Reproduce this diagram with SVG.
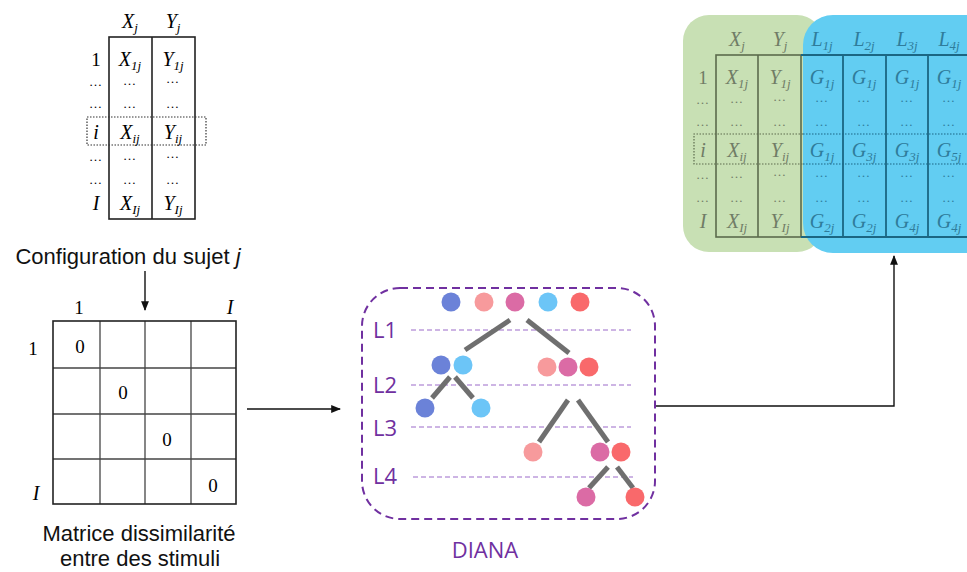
<svg xmlns="http://www.w3.org/2000/svg" width="967" height="572" viewBox="0 0 967 572">
<style>
.m{font-family:"Liberation Serif",serif;font-style:italic;font-size:20px;text-anchor:middle}
.r{font-family:"Liberation Serif",serif;font-size:19px;text-anchor:middle}
.e{font-family:"Liberation Serif",serif;font-size:13px;text-anchor:middle;letter-spacing:1px}
.s{font-size:13px}
.cal{font-family:"Liberation Sans",sans-serif;font-size:22px;text-anchor:middle;fill:#111}
.lv{font-family:"Open Sans","Liberation Sans",sans-serif;font-size:22px;fill:#7030A0}
.tl{fill:none;stroke:#222;stroke-width:1.6}
.dot{fill:none;stroke:#333;stroke-width:1.2;stroke-dasharray:1.5 1.5}
.br{stroke:#6f6f6f;stroke-width:5;stroke-linecap:butt}
.lvl{stroke:#9B6BC9;stroke-width:1;stroke-dasharray:5 3}
.grid{stroke:#444;stroke-width:1.3}
.gt{fill:#707c66}
.bt{fill:#2f7c9b}
.gl{fill:none;stroke:#5c6b4d;stroke-width:1.6}
.bl{fill:none;stroke:#1b6683;stroke-width:1.8}
</style>
<defs>
<marker id="ah" viewBox="0 0 10 10" refX="9" refY="5" markerWidth="7" markerHeight="7" orient="auto-start-reverse">
<path d="M0,1 L10,5 L0,9 z" fill="#111"/>
</marker>
</defs>
<rect width="967" height="572" fill="#fff"/>

<g id="table-sujet">
<text class="m" x="130" y="28">X<tspan class="s" dy="4">j</tspan></text>
<text class="m" x="173" y="28">Y<tspan class="s" dy="4">j</tspan></text>
<rect class="tl" x="109" y="37" width="86" height="182"/>
<line class="tl" x1="152" y1="37" x2="152" y2="219"/>
<rect class="dot" x="87" y="117" width="119" height="28"/>
<text class="r" x="96" y="66">1</text>
<text class="m" x="130" y="66">X<tspan class="s" dy="4">1j</tspan></text>
<text class="m" x="173" y="66">Y<tspan class="s" dy="4">1j</tspan></text>
<text class="e" x="96" y="86">…</text><text class="e" x="130" y="85">…</text><text class="e" x="173" y="83">…</text>
<text class="e" x="96" y="108">…</text><text class="e" x="130" y="108">…</text><text class="e" x="173" y="108">…</text>
<text class="m" x="96" y="139">i</text>
<text class="m" x="130" y="139">X<tspan class="s" dy="4">ij</tspan></text>
<text class="m" x="173" y="139">Y<tspan class="s" dy="4">ij</tspan></text>
<text class="e" x="96" y="161">…</text><text class="e" x="130" y="160">…</text><text class="e" x="173" y="158">…</text>
<text class="e" x="96" y="184">…</text><text class="e" x="130" y="184">…</text><text class="e" x="173" y="184">…</text>
<text class="m" x="96" y="210">I</text>
<text class="m" x="130" y="210">X<tspan class="s" dy="4">Ij</tspan></text>
<text class="m" x="173" y="210">Y<tspan class="s" dy="4">Ij</tspan></text>
</g>

<g id="label-config">
<text class="cal" x="128" y="264">Configuration du sujet <tspan font-style="italic">j</tspan></text>
</g>

<g id="matrice">
<text class="r" x="79" y="314">1</text>
<text class="m" x="230" y="314">I</text>
<text class="r" x="33" y="355">1</text>
<text class="m" x="36" y="500">I</text>
<line class="grid" x1="100" y1="321" x2="100" y2="504"/>
<line class="grid" x1="145" y1="321" x2="145" y2="504"/>
<line class="grid" x1="191" y1="321" x2="191" y2="504"/>
<line class="grid" x1="53" y1="368" x2="236" y2="368"/>
<line class="grid" x1="53" y1="414" x2="236" y2="414"/>
<line class="grid" x1="53" y1="459" x2="236" y2="459"/>
<rect x="53" y="321" width="183" height="183" fill="none" stroke="#222" stroke-width="1.6"/>
<text class="r" x="80" y="353">0</text>
<text class="r" x="123" y="399">0</text>
<text class="r" x="167" y="446">0</text>
<text class="r" x="213" y="492">0</text>
</g>

<g id="label-matrice">
<text class="cal" x="139" y="541">Matrice dissimilarité</text>
<text class="cal" x="140" y="566">entre des stimuli</text>
</g>

<g id="diana">
<rect x="362" y="288" width="293" height="231" rx="38" fill="none" stroke="#7030A0" stroke-width="2" stroke-dasharray="8 5"/>
<text class="lv" x="373" y="338">L1</text>
<text class="lv" x="373" y="393">L2</text>
<text class="lv" x="373" y="436">L3</text>
<text class="lv" x="373" y="484">L4</text>
<line class="lvl" x1="411" y1="330" x2="631" y2="330"/>
<line class="lvl" x1="411" y1="385" x2="631" y2="385"/>
<line class="lvl" x1="411" y1="427" x2="631" y2="427"/>
<line class="lvl" x1="413" y1="477" x2="633" y2="477"/>
<line class="br" x1="510" y1="320" x2="465" y2="350"/>
<line class="br" x1="527" y1="320" x2="569" y2="353"/>
<line class="br" x1="450" y1="377" x2="432" y2="398"/>
<line class="br" x1="455" y1="377" x2="473" y2="398"/>
<line class="br" x1="568" y1="400" x2="539" y2="442"/>
<line class="br" x1="578" y1="400" x2="608" y2="442"/>
<line class="br" x1="608" y1="467" x2="589" y2="488"/>
<line class="br" x1="617" y1="467" x2="633" y2="488"/>
<circle cx="451" cy="302" r="9.5" fill="#6B82D8"/>
<circle cx="484" cy="302" r="9.5" fill="#F79A9C"/>
<circle cx="515" cy="302" r="9.5" fill="#DB6BA5"/>
<circle cx="548" cy="302" r="9.5" fill="#6CC5F7"/>
<circle cx="580" cy="302" r="9.5" fill="#F9696B"/>
<circle cx="441" cy="365" r="9.5" fill="#6B82D8"/>
<circle cx="463" cy="365" r="9.5" fill="#6CC5F7"/>
<circle cx="547" cy="367" r="9.5" fill="#F79A9C"/>
<circle cx="568" cy="367" r="9.5" fill="#DB6BA5"/>
<circle cx="589" cy="367" r="9.5" fill="#F9696B"/>
<circle cx="425" cy="408" r="9.5" fill="#6B82D8"/>
<circle cx="481" cy="408" r="9.5" fill="#6CC5F7"/>
<circle cx="533" cy="452" r="9.5" fill="#F79A9C"/>
<circle cx="600" cy="452" r="9.5" fill="#DB6BA5"/>
<circle cx="621" cy="452" r="9.5" fill="#F9696B"/>
<circle cx="586" cy="497" r="9.5" fill="#DB6BA5"/>
<circle cx="635" cy="497" r="9.5" fill="#F9696B"/>
<text class="lv" x="485" y="558" text-anchor="middle">DIANA</text>
</g>

<g id="table-resultat">
<rect x="683" y="15" width="140" height="237" rx="26" fill="#C8E0B4"/>
<rect x="803" y="15" width="220" height="238" rx="30" fill="#62CDF2"/>
<rect class="gl" x="716" y="55" width="85" height="182"/>
<line class="gl" x1="758" y1="55" x2="758" y2="237"/>
<path class="bl" d="M801,55 H975 M801,237 H975 M843,55 V237 M886,55 V237 M928,55 V237 M971,55 V237"/>
<path d="M803,134 H694 V164 H803" fill="none" stroke="#5c6b4d" stroke-width="1.2" stroke-dasharray="1.5 1.5"/>
<path d="M803,134 H975 M803,164 H975" fill="none" stroke="#1b6683" stroke-width="1.2" stroke-dasharray="1.5 1.5"/>
<g class="gt">
<text class="m" x="737" y="46">X<tspan class="s" dy="4">j</tspan></text>
<text class="m" x="780" y="46">Y<tspan class="s" dy="4">j</tspan></text>
<text class="r" x="703" y="84">1</text>
<text class="m" x="737" y="84">X<tspan class="s" dy="4">1j</tspan></text>
<text class="m" x="780" y="84">Y<tspan class="s" dy="4">1j</tspan></text>
<text class="e" x="703" y="104">…</text><text class="e" x="737" y="103">…</text><text class="e" x="780" y="101">…</text>
<text class="e" x="703" y="126">…</text><text class="e" x="737" y="126">…</text><text class="e" x="780" y="126">…</text>
<text class="m" x="703" y="157">i</text>
<text class="m" x="737" y="157">X<tspan class="s" dy="4">ij</tspan></text>
<text class="m" x="780" y="157">Y<tspan class="s" dy="4">ij</tspan></text>
<text class="e" x="703" y="179">…</text><text class="e" x="737" y="178">…</text><text class="e" x="780" y="176">…</text>
<text class="e" x="703" y="202">…</text><text class="e" x="737" y="202">…</text><text class="e" x="780" y="202">…</text>
<text class="m" x="703" y="228">I</text>
<text class="m" x="737" y="228">X<tspan class="s" dy="4">Ij</tspan></text>
<text class="m" x="780" y="228">Y<tspan class="s" dy="4">Ij</tspan></text>
</g>
<g class="bt">
<text class="m" x="822" y="46">L<tspan class="s" dy="4">1j</tspan></text>
<text class="m" x="864" y="46">L<tspan class="s" dy="4">2j</tspan></text>
<text class="m" x="907" y="46">L<tspan class="s" dy="4">3j</tspan></text>
<text class="m" x="949" y="46">L<tspan class="s" dy="4">4j</tspan></text>
<text class="m" x="822" y="84">G<tspan class="s" dy="4">1j</tspan></text>
<text class="m" x="864" y="84">G<tspan class="s" dy="4">1j</tspan></text>
<text class="m" x="907" y="84">G<tspan class="s" dy="4">1j</tspan></text>
<text class="m" x="949" y="84">G<tspan class="s" dy="4">1j</tspan></text>
<text class="e" x="822" y="102">…</text><text class="e" x="864" y="102">…</text><text class="e" x="907" y="102">…</text><text class="e" x="949" y="102">…</text>
<text class="e" x="822" y="126">…</text><text class="e" x="864" y="126">…</text><text class="e" x="907" y="126">…</text><text class="e" x="949" y="126">…</text>
<text class="m" x="822" y="157">G<tspan class="s" dy="4">1j</tspan></text>
<text class="m" x="864" y="157">G<tspan class="s" dy="4">3j</tspan></text>
<text class="m" x="907" y="157">G<tspan class="s" dy="4">3j</tspan></text>
<text class="m" x="949" y="157">G<tspan class="s" dy="4">5j</tspan></text>
<text class="e" x="822" y="177">…</text><text class="e" x="864" y="177">…</text><text class="e" x="907" y="177">…</text><text class="e" x="949" y="177">…</text>
<text class="e" x="822" y="202">…</text><text class="e" x="864" y="202">…</text><text class="e" x="907" y="202">…</text><text class="e" x="949" y="202">…</text>
<text class="m" x="822" y="228">G<tspan class="s" dy="4">2j</tspan></text>
<text class="m" x="864" y="228">G<tspan class="s" dy="4">2j</tspan></text>
<text class="m" x="907" y="228">G<tspan class="s" dy="4">4j</tspan></text>
<text class="m" x="949" y="228">G<tspan class="s" dy="4">4j</tspan></text>
</g>
</g>

<g id="connectors" fill="none" stroke="#111" stroke-width="1.4">
<line x1="145" y1="271" x2="145" y2="310" marker-end="url(#ah)"/>
<line x1="247" y1="409" x2="340" y2="409" marker-end="url(#ah)"/>
<polyline points="656,406 894,406 894,256" marker-end="url(#ah)"/>
</g>
</svg>
